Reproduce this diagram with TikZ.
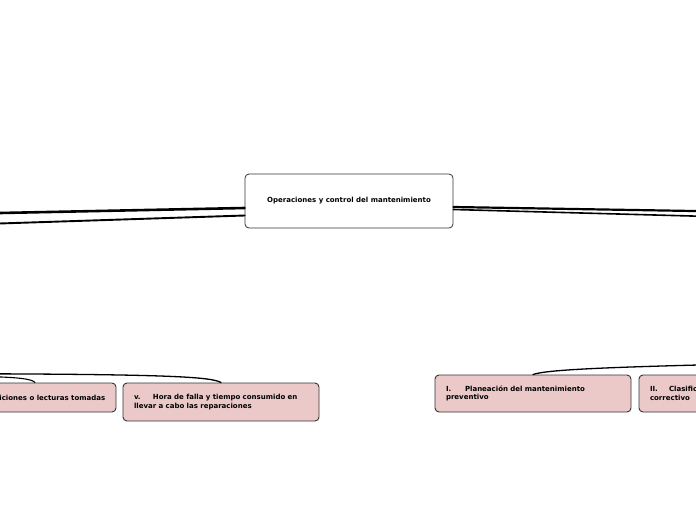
\documentclass[tikz,border=0pt]{standalone}
\usepackage{fontspec}
\newfontfamily\mapfont{DejaVu Sans}
\definecolor{boxpink}{HTML}{EBC9C9}
\definecolor{boxline}{HTML}{333333}
\tikzset{
  mainbox/.style={draw=boxline, line width=0.8pt, rounded corners=4pt, fill=white,
    minimum width=208pt, minimum height=54pt, inner sep=0pt,
    font=\mapfont\bfseries\fontsize{7}{8.7}\selectfont},
  subbox/.style={draw=boxline, line width=0.9pt, rounded corners=4pt, fill=boxpink,
    text width=174pt, inner xsep=11pt, inner ysep=0pt, align=left,
    font=\mapfont\bfseries\fontsize{7}{8.7}\selectfont},
  plainbox/.style={draw=boxline, line width=0.9pt, rounded corners=4pt, fill=boxpink, inner sep=0pt},
  txt/.style={inner sep=0pt, font=\mapfont\bfseries\fontsize{7}{8.7}\selectfont},
  link/.style={draw=black, line cap=round},
}
\newcommand{\numlab}[1]{\makebox[19pt][l]{#1}}
\begin{document}
\begin{tikzpicture}[x=1pt, y=-1pt]
\useasboundingbox (0,0) rectangle (696,520);
\clip (0,0) rectangle (696,520);

% far-away end points
\coordinate (l1) at (-10,213.2);
\coordinate (l2) at (-10,223.8);
\coordinate (r1) at (706,211.2);
\coordinate (r2) at (706,216.4);
\coordinate (bl1) at (-10,373.8);
\coordinate (bl2) at (-10,376.6);
\coordinate (br1) at (706,364.8);

% central node
\node[mainbox] (c) at (349,201) {Operaciones y control del mantenimiento};

% lines from central node
\draw[link, line width=2.6pt] ([yshift=-7pt]c.west) -- (l1);
\draw[link, line width=1.9pt] ([yshift=-14.5pt]c.west) -- (l2);
\draw[link, line width=2.2pt] ([yshift=-6pt]c.east) -- (r1);
\draw[link, line width=1.6pt] ([yshift=-8.5pt]c.east) -- (r2);

% bottom-left boxes
\node[plainbox, minimum width=162pt, minimum height=29pt] (iv) at (35,397.5) {};
\node[txt, anchor=east] (ivt) at ([xshift=-11pt]iv.east) {iv.~Mediciones o lecturas tomadas};
\node[subbox, minimum height=38pt] (v) at (221,402)
  {\numlab{v.}Hora de falla y tiempo consumido en\\llevar a cabo las reparaciones};

% bottom-right boxes
\node[subbox, minimum height=37pt] (i) at (533,393.5)
  {\numlab{I.}Planeación del mantenimiento\\preventivo};
\node[subbox, minimum height=37pt] (ii) at (737,393.5)
  {\numlab{II.}Clasificación del mantenimiento\\correctivo};

% connectors to boxes
\draw[link, line width=1.3pt] (bl1) .. controls (170,374.5) and (212,377) .. (v.north);
\draw[link, line width=1.1pt] (bl2) .. controls (20,377.5) and (32,379) .. (iv.north);
\draw[link, line width=1.3pt] (i.north) .. controls (545,370) and (600,367.5) .. (br1);
\end{tikzpicture}
\end{document}
